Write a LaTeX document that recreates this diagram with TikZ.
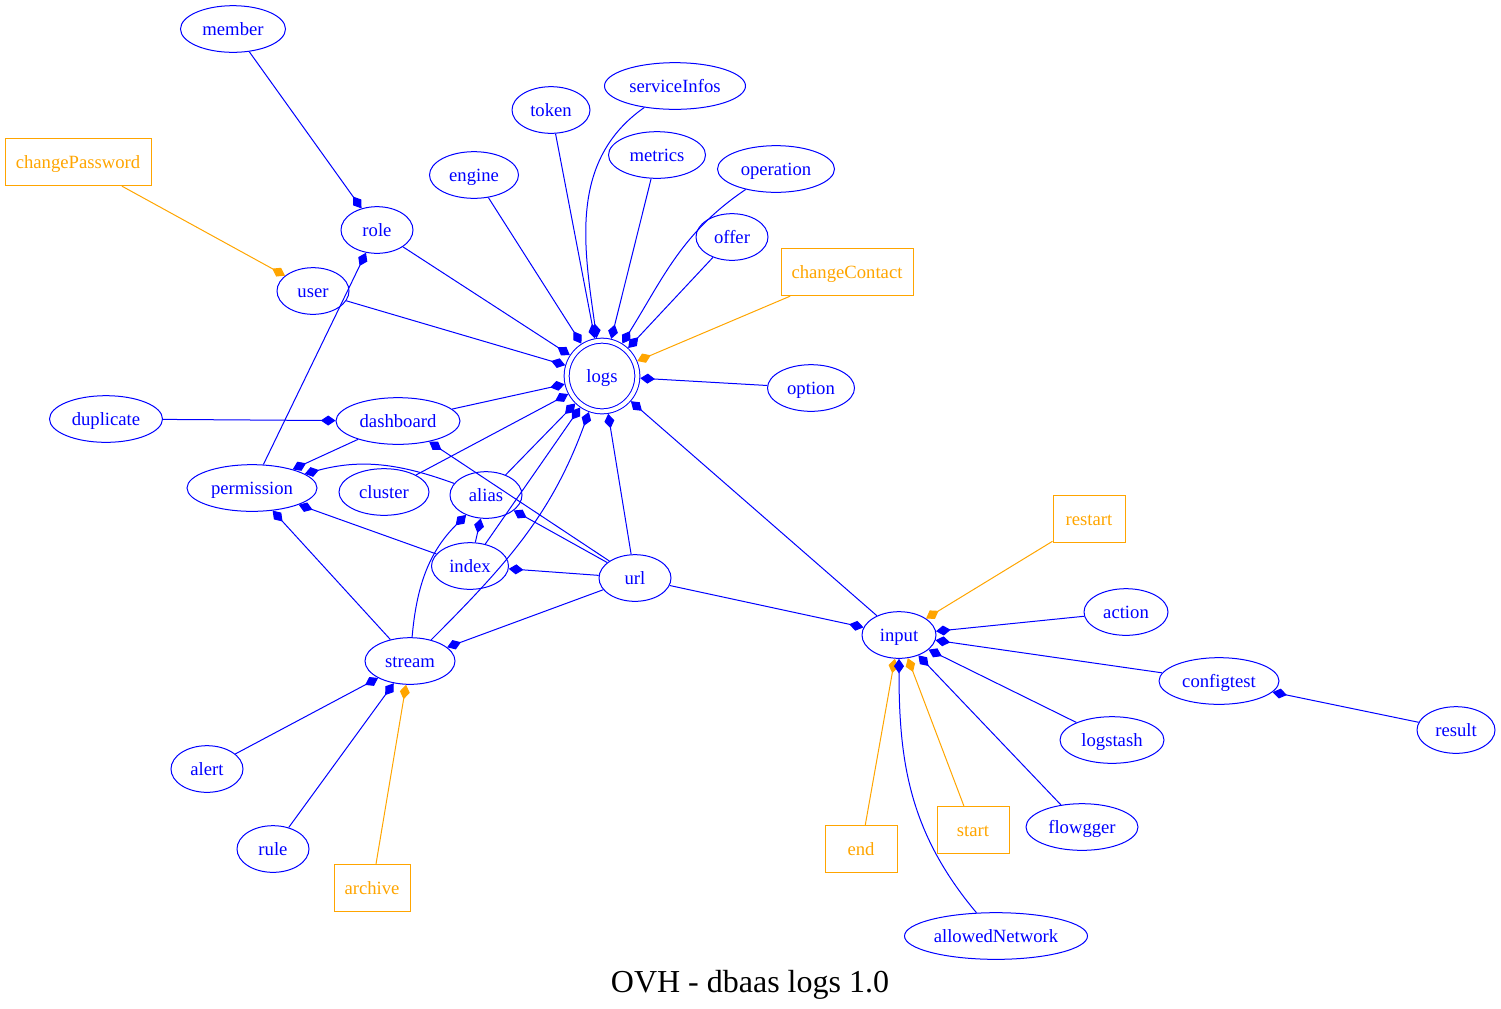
\documentclass[tikz,border=0pt]{standalone}
\usepackage{fontspec}
\setmainfont{Liberation Serif}
\usetikzlibrary{shapes.geometric,arrows.meta}
\definecolor{gvblue}{RGB}{0,0,255}
\definecolor{gvorange}{RGB}{255,165,0}
\begin{document}
\begin{tikzpicture}[x=0.75pt,y=0.75pt,
  every node/.style={font=\fontsize{14pt}{16pt}\selectfont},
  ell/.style={ellipse, draw=gvblue, text=gvblue, line width=0.75pt, inner sep=0pt, text height=10.5pt, text depth=1pt, minimum height=35pt, minimum width=#1*0.75pt},
  bx/.style={rectangle, draw=gvorange, text=gvorange, line width=0.75pt, inner sep=0pt, text height=10.5pt, text depth=1pt, minimum height=35.5pt, minimum width=#1*0.75pt},
  dbl/.style={circle, draw=gvblue, text=gvblue, double=white, double distance=3pt, line width=0.75pt, minimum size=53pt, inner sep=0pt, text height=10.5pt, text depth=1pt, outer sep=2.25pt},
  e/.style={draw=gvblue, line width=0.75pt, -{Diamond[length=11pt,width=7.5pt]}},
  eo/.style={draw=gvorange, line width=0.75pt, -{Diamond[length=11pt,width=7.5pt]}},
  ttl/.style={font=\fontsize{24pt}{28pt}\selectfont, text=black, anchor=base}]
\useasboundingbox (0,0) rectangle (1501,-1008);
% nodes
\node[ell=105] (member) at (233,-29) {member};
\node[bx=146] (changePassword) at (78,-162) {changePassword};
\node[ell=72] (role) at (377,-230) {role};
\node[ell=72] (user) at (313,-291) {user};
\node[ell=89] (engine) at (474,-175) {engine};
\node[ell=78] (token) at (551,-110) {token};
\node[ell=141] (serviceInfos) at (675,-86) {serviceInfos};
\node[ell=97] (metrics) at (657,-155) {metrics};
\node[ell=117] (operation) at (776,-169) {operation};
\node[ell=72] (offer) at (732,-237) {offer};
\node[bx=132] (changeContact) at (847,-272) {changeContact};
\node[dbl] (logs) at (602,-376) {logs};
\node[ell=87] (option) at (811,-388) {option};
\node[ell=113] (duplicate) at (106,-419) {duplicate};
\node[ell=124] (dashboard) at (398,-421) {dashboard};
\node[ell=130] (permission) at (252,-488) {permission};
\node[ell=90] (cluster) at (384,-492) {cluster};
\node[ell=72] (alias) at (486,-495) {alias};
\node[ell=77] (index) at (470,-566) {index};
\node[ell=72] (url) at (635,-578) {url};
\node[ell=90] (stream) at (410,-661) {stream};
\node[ell=72] (alert) at (207,-769) {alert};
\node[ell=72] (rule) at (273,-849) {rule};
\node[bx=76] (archive) at (372,-888) {archive};
\node[bx=72] (restart) at (1089,-519) {restart};
\node[ell=84] (action) at (1126,-612) {action};
\node[ell=74] (input) at (899,-635) {input};
\node[ell=120] (configtest) at (1219,-681) {configtest};
\node[ell=78] (result) at (1456,-730) {result};
\node[ell=104] (logstash) at (1112,-740) {logstash};
\node[ell=112] (flowgger) at (1082,-827) {flowgger};
\node[bx=72] (nstart) at (973,-830) {start};
\node[bx=72] (nend) at (861,-849) {end};
\node[ell=183] (allowedNetwork) at (996,-936) {allowedNetwork};
\node[ttl] (title) at (750,-992) {OVH - dbaas logs 1.0};
% edges
\draw[e] (member) -- (role);
\draw[eo] (changePassword) -- (user);
\draw[e] (role) -- (logs);
\draw[e] (user) -- (logs);
\draw[e] (engine) -- (logs);
\draw[e] (token) -- (logs);
\draw[e] (serviceInfos) to[out=215,in=98] (logs);
\draw[e] (metrics) -- (logs);
\draw[e] (operation) to[out=214,in=58] (logs);
\draw[e] (offer) -- (logs);
\draw[eo] (changeContact) -- (logs);
\draw[e] (option) -- (logs);
\draw[e] (dashboard) -- (logs);
\draw[e] (cluster) -- (logs);
\draw[e] (alias) -- (logs);
\draw[e] (index) -- (logs);
\draw[e] (stream) to[out=45,in=250] (logs);
\draw[e] (url) -- (logs);
\draw[e] (input) -- (logs);
\draw[e] (duplicate) -- (dashboard);
\draw[e] (permission) -- (role);
\draw[e] (dashboard) -- (permission);
\draw[e] (alias) to[out=160,in=15] (permission);
\draw[e] (index) -- (permission);
\draw[e] (stream) -- (permission);
\draw[e] (url) -- (dashboard);
\draw[e] (url) -- (alias);
\draw[e] (url) -- (index);
\draw[e] (index) -- (alias);
\draw[e] (stream) to[out=85,in=225] (alias);
\draw[e] (url) -- (stream);
\draw[e] (url) -- (input);
\draw[eo] (restart) -- (input);
\draw[e] (action) -- (input);
\draw[e] (configtest) -- (input);
\draw[e] (logstash) -- (input);
\draw[e] (flowgger) -- (input);
\draw[eo] (nstart) -- (input);
\draw[eo] (nend) -- (input);
\draw[e] (allowedNetwork) to[out=130,in=270] (input);
\draw[e] (result) -- (configtest);
\draw[e] (alert) -- (stream);
\draw[e] (rule) -- (stream);
\draw[eo] (archive) -- (stream);
\end{tikzpicture}
\end{document}
